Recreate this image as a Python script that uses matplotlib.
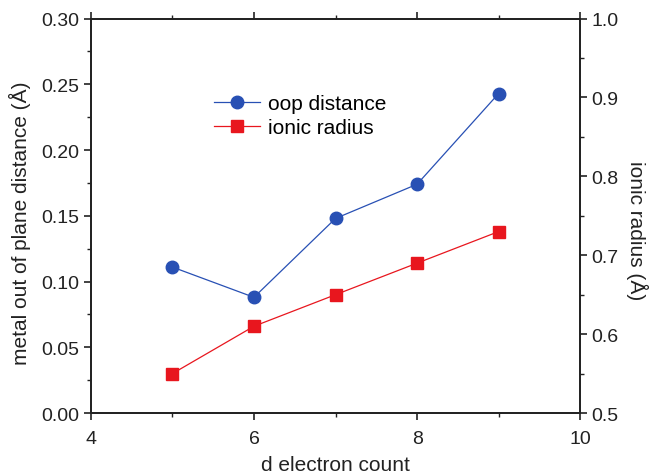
import matplotlib
matplotlib.use("Agg")
import matplotlib.pyplot as plt
from matplotlib.ticker import MultipleLocator, FormatStrFormatter

plt.rcParams['font.family'] = ['Liberation Sans', 'DejaVu Sans']

d_count = [5, 6, 7, 8, 9]
oop_distance = [0.111, 0.088, 0.148, 0.174, 0.243]
ionic_radius = [0.55, 0.61, 0.65, 0.69, 0.73]

blue = '#2850b4'
red = '#e8161e'
dark = '#222222'

fig = plt.figure(figsize=(6.49, 4.77), dpi=100)
ax = fig.add_axes([0.140, 0.132, 0.754, 0.827])
ax2 = ax.twinx()

l1, = ax.plot(d_count, oop_distance, '-o', color=blue, lw=0.9, ms=9,
              markeredgecolor=blue, label='oop distance')
l2, = ax2.plot(d_count, ionic_radius, '-s', color=red, lw=0.9, ms=8,
               markeredgecolor=red, label='ionic radius')

ax.set_xlim(4, 10)
ax.set_ylim(0, 0.30)
ax2.set_ylim(0.5, 1.0)

ax.xaxis.set_major_locator(MultipleLocator(2))
ax.xaxis.set_minor_locator(MultipleLocator(1))
ax.yaxis.set_major_locator(MultipleLocator(0.05))
ax.yaxis.set_minor_locator(MultipleLocator(0.025))
ax2.yaxis.set_major_locator(MultipleLocator(0.1))
ax2.yaxis.set_minor_locator(MultipleLocator(0.05))
ax.yaxis.set_major_formatter(FormatStrFormatter('%.2f'))
ax2.yaxis.set_major_formatter(FormatStrFormatter('%.1f'))

for a in (ax, ax2):
    for s in a.spines.values():
        s.set_linewidth(1.3)
        s.set_color(dark)

ax.tick_params(axis='x', which='both', direction='out', top=True, labelsize=14,
               colors=dark, pad=7)
ax.tick_params(axis='y', which='both', direction='out', labelsize=14, colors=dark, pad=3)
ax.tick_params(which='major', length=5, width=1.2)
ax.tick_params(which='minor', length=3, width=1.0)
ax2.tick_params(axis='y', which='both', direction='out', labelsize=14, colors=dark, pad=3)
ax2.tick_params(which='major', length=5, width=1.2)
ax2.tick_params(which='minor', length=3, width=1.0)

ax.set_xlabel('d electron count', fontsize=15, color=dark, labelpad=6)
ax.set_ylabel('metal out of plane distance (Å)', fontsize=15, color=dark, labelpad=8)
ax2.set_ylabel('ionic radius (Å)', fontsize=15, color=dark, rotation=270,
               labelpad=21)
ax.yaxis.label.set_y(0.483)
ax2.yaxis.label.set_y(0.464)

ax.legend(handles=[l1, l2], loc='upper left', bbox_to_anchor=(0.222, 0.845),
          frameon=False, fontsize=15, handlelength=2.2, handletextpad=0.4,
          labelspacing=0.25, borderpad=0.2)

fig.savefig('out.png', dpi=100)
